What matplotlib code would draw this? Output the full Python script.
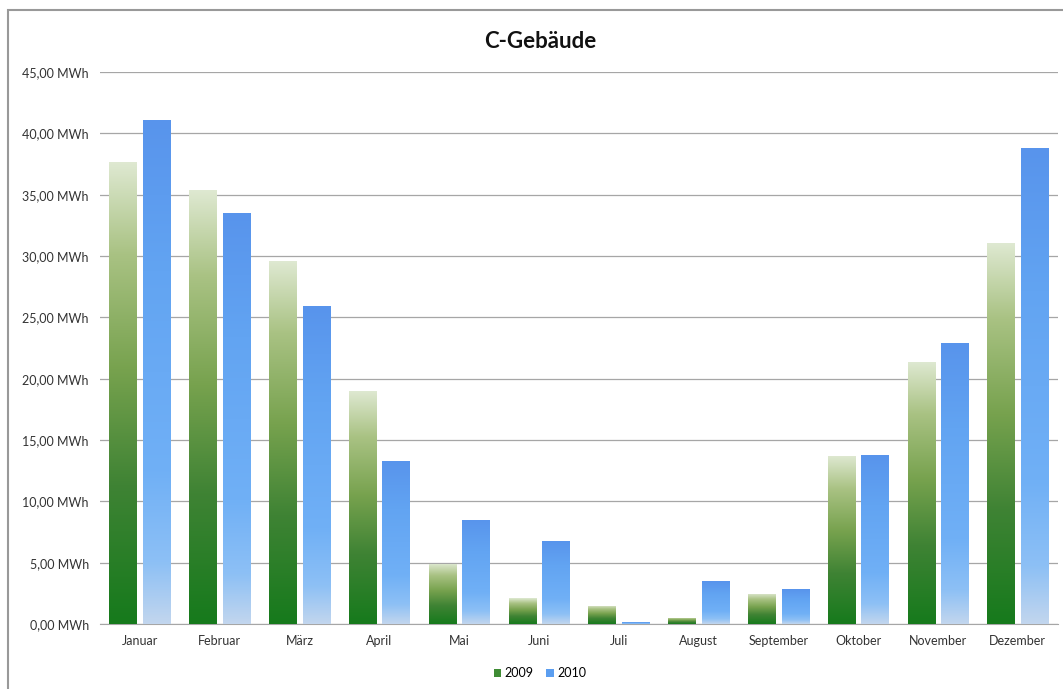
import numpy as np
import matplotlib
matplotlib.use("Agg")
import matplotlib.pyplot as plt
from matplotlib.colors import LinearSegmentedColormap
from matplotlib.patches import Rectangle, Patch
from matplotlib.ticker import FuncFormatter

plt.rcParams['font.family'] = ['Lato', 'DejaVu Sans']

# --- Daten ---
monate = ['Januar', 'Februar', 'März', 'April', 'Mai', 'Juni', 'Juli',
          'August', 'September', 'Oktober', 'November', 'Dezember']
werte_2009 = [37.7, 35.4, 29.6, 19.0, 4.9, 2.1, 1.5, 0.5, 2.45, 13.7, 21.4, 31.1]
werte_2010 = [41.1, 33.5, 25.9, 13.3, 8.5, 6.8, 0.15, 3.5, 2.85, 13.8, 22.9, 38.8]
jahre = ['2009', '2010']

# Farbverläufe (unten -> oben)
cmap_gruen = LinearSegmentedColormap.from_list(
    'gruen', [(0.0, '#167a1c'), (0.3, '#3f8334'), (0.55, '#77a24e'),
              (0.8, '#a9c283'), (1.0, '#dfe9d2')])
cmap_blau = LinearSegmentedColormap.from_list(
    'blau', [(0.0, '#c2d6ee'), (0.12, '#8dc0f5'), (0.3, '#70b0f6'),
             (0.7, '#62a4f2'), (1.0, '#5894ec')])

fig = plt.figure(figsize=(10.63, 6.89), dpi=100)
ax = fig.add_axes([0.094, 0.0943, 0.901, 0.8012])

x = np.arange(len(monate))
breite = 0.34
versatz = 0.21

grad = np.linspace(0, 1, 256).reshape(-1, 1)

def verlauf_balken(pos, werte, cmap):
    bars = ax.bar(pos, werte, width=breite, color='none', edgecolor='none', zorder=3)
    for b in bars:
        x0, y0 = b.get_x(), b.get_y()
        w, h = b.get_width(), b.get_height()
        im = ax.imshow(grad, cmap=cmap, origin='lower', aspect='auto',
                       extent=[x0, x0 + w, y0, y0 + h], zorder=3,
                       interpolation='bilinear')
        im.set_clip_path(b)
    return bars

verlauf_balken(x - versatz, werte_2009, cmap_gruen)
verlauf_balken(x + versatz, werte_2010, cmap_blau)

ax.set_xlim(-0.5, len(monate) - 0.5)
ax.set_ylim(0, 45)
ax.set_yticks(np.arange(0, 46, 5))
ax.yaxis.set_major_formatter(FuncFormatter(lambda v, p: f"{v:.2f}".replace('.', ',') + " MWh"))
ax.set_xticks(x)
ax.set_xticklabels(monate)
ax.tick_params(axis='both', length=0, labelsize=9, colors='#333333')
ax.tick_params(axis='y', pad=8)
ax.tick_params(axis='x', pad=8)
ax.grid(axis='y', color='#a6a6a6', linewidth=0.9, zorder=0)
ax.set_axisbelow(True)
for s in ['top', 'right', 'left']:
    ax.spines[s].set_visible(False)
ax.spines['bottom'].set_color('#a6a6a6')

fig.text(0.508, 0.94, 'C-Gebäude', ha='center', va='center',
         fontsize=16, fontweight='bold', color='#111111')

handles = [Patch(facecolor='#3f8c34', edgecolor='none'),
           Patch(facecolor='#5b9ef0', edgecolor='none')]
fig.legend(handles, jahre, loc='center', bbox_to_anchor=(0.508, 0.023),
           ncol=2, frameon=False, fontsize=9, handlelength=0.6,
           handleheight=0.6, handletextpad=0.3, columnspacing=1.0)

# äußerer Rahmen
fig.patches.append(Rectangle((8 / 1063, -0.1), 1.2, 1 - 10 / 689 + 0.1,
                             transform=fig.transFigure, fill=False,
                             edgecolor='#999999', linewidth=1.5))

fig.savefig('out.png', dpi=100)
